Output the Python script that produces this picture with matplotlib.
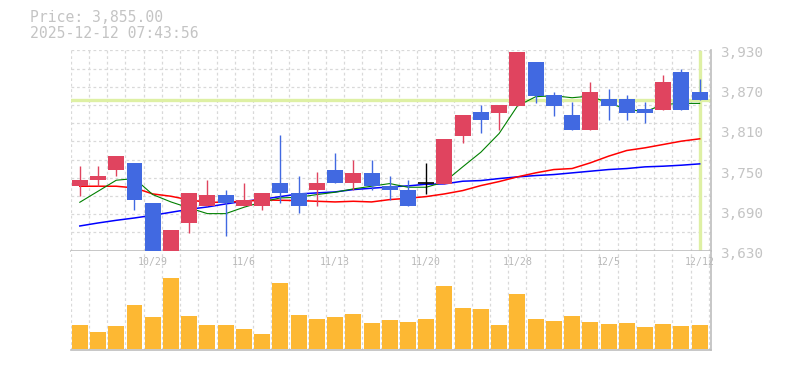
import matplotlib.pyplot as plt
import matplotlib.transforms as mtransforms
import numpy as np

# daily candles 2025/10/23 - 2025/12/12
dates = ["10/23", "10/24", "10/27", "10/28", "10/29", "10/30", "10/31", "11/4", "11/5", "11/6",
         "11/7", "11/10", "11/11", "11/12", "11/13", "11/14", "11/17", "11/18", "11/19", "11/20",
         "11/21", "11/25", "11/26", "11/27", "11/28", "12/1", "12/2", "12/3", "12/4", "12/5",
         "12/8", "12/9", "12/10", "12/11", "12/12"]
opens = [3726.5, 3735.5, 3750.5, 3761.5, 3702, 3626, 3671, 3696.5, 3713, 3696.5,
         3696.5, 3732, 3717, 3720.5, 3751.5, 3731, 3747, 3727.5, 3721.5, 3731,
         3730.5, 3801.5, 3837, 3835.5, 3846, 3912, 3862.5, 3832.5, 3810.5, 3856.5,
         3856.5, 3841.5, 3840.5, 3897, 3867]
highs = [3757.5, 3757.5, 3772.5, 3761.5, 3702, 3661.5, 3717, 3736.5, 3721.5, 3731.5,
         3717, 3802.5, 3742.5, 3747.5, 3777, 3766.5, 3766.5, 3742.5, 3736.5, 3762,
         3796.5, 3832.5, 3847.5, 3847.5, 3927, 3912, 3867, 3852, 3882, 3871.5,
         3862.5, 3852, 3892.5, 3901.5, 3886.5]
lows = [3711.5, 3726.5, 3741.5, 3690.5, 3630, 3626, 3656, 3696.5, 3651.5, 3696.5,
        3690.5, 3701, 3686, 3696.5, 3731, 3720.5, 3720.5, 3705.5, 3696.5, 3715.5,
        3730.5, 3790.5, 3805.5, 3810.5, 3846, 3850.5, 3831.5, 3810.5, 3810.5, 3825.5,
        3825.5, 3821, 3840.5, 3840.5, 3855]
closes = [3736.5, 3742.5, 3772.5, 3705.5, 3630, 3661.5, 3717, 3713, 3701, 3706.5,
          3717, 3716, 3696.5, 3732, 3731, 3747, 3726.5, 3720.5, 3696.5, 3731,
          3796.5, 3832.5, 3825.5, 3847.5, 3927, 3861, 3846, 3810.5, 3867, 3846,
          3836, 3836, 3882, 3840.5, 3855]
volumes = [70, 49, 67, 130, 94, 214, 97, 70, 70, 58,
           43, 199, 100, 88, 94, 103, 76, 85, 79, 88,
           190, 121, 118, 70, 166, 88, 82, 97, 79, 73,
           76, 64, 73, 67, 70]

ma_short = [3702.5, 3719, 3735.5, 3738, 3714, 3703, 3694, 3685.5, 3685.5, 3695,
            3703, 3709, 3710, 3714, 3717.5, 3722.5, 3726.5, 3730.5, 3725, 3725,
            3733, 3755.5, 3777.5, 3805.5, 3846.5, 3860.5, 3862, 3859, 3861.5, 3851,
            3842, 3838, 3849, 3850.5, 3850.5]
ma_mid = [3726.5, 3726.5, 3726.5, 3724, 3715, 3711.5, 3706, 3702.5, 3702.5, 3704,
          3706, 3705.5, 3705, 3704, 3703, 3704, 3703, 3706.5, 3708.5, 3711,
          3715, 3720, 3727.5, 3733.5, 3740.5, 3746.5, 3751.5, 3753, 3761.5, 3771.5,
          3780, 3784, 3789, 3794, 3797.5]
ma_long = [3667, 3671.5, 3675.5, 3679, 3683, 3687.5, 3692, 3695.5, 3700, 3704,
           3707, 3711, 3715, 3716.5, 3718, 3721.5, 3723.5, 3725.5, 3727, 3729.5,
           3730, 3734, 3735, 3738, 3740.5, 3742.5, 3744, 3746.5, 3749, 3751.5,
           3753, 3755.5, 3756.5, 3758, 3760]

price_ticks = [3630, 3690, 3750, 3810, 3870, 3930]
date_ticks = [4, 9, 14, 19, 24, 29, 34]
last_price = 3855.00
stamp = "2025-12-12 07:43:56"

UP = '#e0445f'
DOWN = '#4169e1'
VOL = '#fdb833'
GRID = '#d9d9d9'
FRAME = '#bdbdbd'
MARK = '#def0a4'
DASH = (0, (2.2, 2.2))

W, H = 785, 370
fig = plt.figure(figsize=(W / 100, H / 100), dpi=100)
ax = fig.add_axes([70.5 / W, (H - 250.7) / H, (711 - 70.5) / W, (250.7 - 50.3) / H])
axv = fig.add_axes([70.5 / W, (H - 350) / H, (711 - 70.5) / W, (350 - 250.7) / H])

x = np.arange(len(dates))
xmin, xmax = -0.51, 34.62

# --- price panel ---
ax.set_xlim(xmin, xmax)
ax.set_ylim(3630, 3930)
for g in np.arange(-0.5, 35, 1):
    ax.axvline(g, color=GRID, lw=0.9, ls=DASH, zorder=0.5)
for g in np.linspace(3630, 3930, 12)[1:]:
    ax.axhline(g, color=GRID, lw=0.9, ls=DASH, zorder=0.5)

ax.axhline(last_price, color=MARK, lw=2.4, zorder=1)
ax.axvline(x[-1], ymin=0.008, ymax=0.992, color=MARK, lw=2.4, zorder=1)

ax.plot(x, ma_long, color='#0000ff', lw=1.1, zorder=2)
ax.plot(x, ma_mid, color='#ff0000', lw=1.1, zorder=2)
ax.plot(x, ma_short, color='#008000', lw=0.8, zorder=2)

for i in range(len(x)):
    o, h, l, c = opens[i], highs[i], lows[i], closes[i]
    if c > o:
        col = UP
    elif c < o:
        col = DOWN
    else:
        col = 'black'
    ax.vlines(x[i], l, h, color=col, lw=1.0, zorder=3, clip_on=False)
    if c == o:
        ax.hlines(o, x[i] - 0.44, x[i] + 0.44, color=col, lw=1.2, zorder=4)
    else:
        ax.bar(x[i], abs(c - o), bottom=min(o, c), width=0.877, color=col,
               zorder=4, clip_on=False)

for s in ['top', 'left']:
    ax.spines[s].set_visible(False)
for s in ['bottom', 'right']:
    ax.spines[s].set_color(FRAME)
    ax.spines[s].set_linewidth(1.2)
ax.set_xticks([])
ax.set_yticks([])

trans = mtransforms.blended_transform_factory(ax.transAxes, ax.transData)
for v in price_ticks:
    ax.annotate(f"{v:,}", xy=(1, v), xycoords=trans, xytext=(9, -3),
                textcoords='offset pixels', ha='left', va='center',
                fontsize=10.3, color='#c4c4c4', family='DejaVu Sans Mono')

# --- volume panel ---
axv.set_xlim(xmin, xmax)
axv.set_ylim(-4, 295)
for g in np.arange(-0.5, 35, 1):
    axv.axvline(g, color=GRID, lw=0.9, ls=DASH, zorder=0.5)
axv.bar(x, volumes, width=0.877, color=VOL, zorder=2)
for s in ['top', 'left']:
    axv.spines[s].set_visible(False)
for s in ['bottom', 'right']:
    axv.spines[s].set_color(FRAME)
    axv.spines[s].set_linewidth(1.2)
axv.set_xticks([])
axv.set_yticks([])

vtrans = mtransforms.blended_transform_factory(axv.transData, axv.transAxes)
for i in date_ticks:
    axv.text(x[i], 0.885, dates[i], transform=vtrans, ha='center', va='center',
             fontsize=7.1, color='#b8b8b8', family='DejaVu Sans Mono')

# header text
fig.text(30 / W, 1 - 18 / H, f"Price: {last_price:,.2f}", ha='left', va='center',
         fontsize=10.6, color='#c4c4c4', family='DejaVu Sans Mono')
fig.text(30 / W, 1 - 33 / H, stamp, ha='left', va='center',
         fontsize=10.6, color='#c4c4c4', family='DejaVu Sans Mono')

plt.savefig("out.png", dpi=100)
